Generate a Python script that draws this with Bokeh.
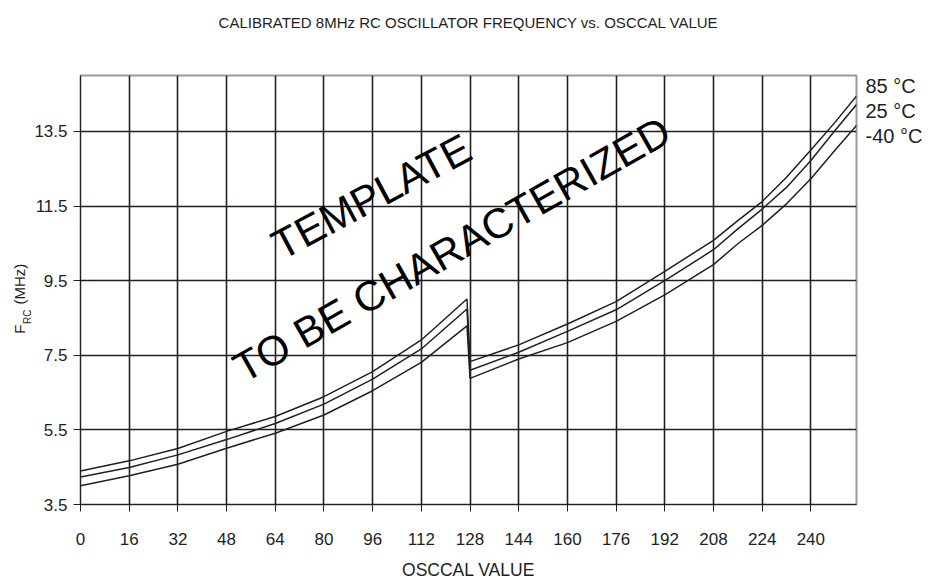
from bokeh.plotting import figure
from bokeh.models import Range1d, FixedTicker, Label, LinearAxis
from bokeh.embed import file_html
from bokeh.resources import INLINE

# ---- data ----
osccal = [0, 16, 32, 48, 64, 80, 96, 112, 127, 128, 144, 160, 176, 192, 208, 216, 224, 232, 240, 248, 255]
f_85 = [4.40, 4.67, 5.00, 5.46, 5.86, 6.39, 7.06, 7.91, 9.01, 7.33, 7.78, 8.34, 8.94, 9.75, 10.58, 11.11, 11.62, 12.27, 13.00, 13.75, 14.45]
f_25 = [4.24, 4.49, 4.83, 5.24, 5.67, 6.19, 6.86, 7.67, 8.74, 7.10, 7.58, 8.14, 8.72, 9.50, 10.33, 10.89, 11.42, 12.00, 12.72, 13.53, 14.22]
f_m40 = [4.00, 4.27, 4.58, 5.01, 5.41, 5.90, 6.55, 7.31, 8.29, 6.88, 7.40, 7.84, 8.41, 9.12, 9.93, 10.49, 10.98, 11.56, 12.23, 13.00, 13.66]
series_labels = ["85 °C", "25 °C", "-40 °C"]
x_ticks = [0, 16, 32, 48, 64, 80, 96, 112, 128, 144, 160, 176, 192, 208, 224, 240]
y_ticks = [3.5, 5.5, 7.5, 9.5, 11.5, 13.5]
title_text = "CALIBRATED 8MHz RC OSCILLATOR FREQUENCY vs. OSCCAL VALUE"
x_title = "OSCCAL VALUE"
y_title_parts = ["F", "RC", "(MHz)"]

# ---- positions (layout only) ----
series_label_y = [14.71, 14.06, 13.37]
y_title_pos = [8.20, 8.53, 9.41]

FONT = "Liberation Sans"
INK = "#231f20"
W, H = 930, 584

p = figure(width=W, height=H, output_backend="svg", toolbar_location=None,
           x_range=Range1d(0, 255), y_range=Range1d(3.5, 15.0),
           min_border_left=80, min_border_right=W - 856, min_border_top=75, min_border_bottom=H - 504)
p.background_fill_color = "white"
p.border_fill_color = "white"
p.outline_line_color = "#9a9a9a"
p.outline_line_width = 2

xa = p.below[0]
ya = p.left[0]
for ax in (xa, ya):
    ax.axis_line_color = INK
    ax.axis_line_width = 1
    ax.major_tick_line_color = INK
    ax.major_tick_out = 7
    ax.major_tick_in = 0
    ax.minor_tick_line_color = None
    ax.major_label_text_font = FONT
    ax.major_label_text_font_size = "17px"
    ax.major_label_text_color = INK
    ax.axis_label_text_font = FONT
    ax.axis_label_text_font_style = "normal"
    ax.axis_label_text_color = INK
xa.ticker = FixedTicker(ticks=x_ticks)
ya.ticker = FixedTicker(ticks=y_ticks)
xa.major_label_standoff = 21
ya.major_label_standoff = 6
xa.axis_label = x_title
xa.axis_label_text_font_size = "17.5px"
xa.axis_label_standoff = 12


def bare_axis(ticks, overrides, size, standoff, orientation="horizontal"):
    ax = LinearAxis(ticker=FixedTicker(ticks=ticks), major_label_overrides=overrides)
    ax.axis_line_color = None
    ax.major_tick_line_color = None
    ax.minor_tick_line_color = None
    ax.major_tick_out = 0
    ax.major_tick_in = 0
    ax.minor_tick_out = 0
    ax.minor_tick_in = 0
    ax.major_label_standoff = standoff
    ax.major_label_orientation = orientation
    ax.major_label_text_font = FONT
    ax.major_label_text_font_size = size
    ax.major_label_text_color = INK
    return ax


# title as the label of a bare top axis
top_ax = bare_axis([], {}, "15px", 0)
top_ax.axis_label = title_text
top_ax.axis_label_standoff = 45
top_ax.axis_label_text_font = FONT
top_ax.axis_label_text_font_size = "15px"
top_ax.axis_label_text_font_style = "normal"
top_ax.axis_label_text_color = INK
p.add_layout(top_ax, "above")

# series labels on a bare right axis
p.add_layout(bare_axis(series_label_y, dict(zip(series_label_y, series_labels)), "20px", 9), "right")

# y title F_RC (MHz): subscript on an inner bare axis, the rest on an outer one
p.add_layout(bare_axis([y_title_pos[1]], {y_title_pos[1]: y_title_parts[1]}, "10px", -2, "parallel"), "left")
p.add_layout(bare_axis([y_title_pos[0], y_title_pos[2]],
                       {y_title_pos[0]: y_title_parts[0], y_title_pos[2]: y_title_parts[2]},
                       "15px", -9, "parallel"), "left")

p.xgrid.ticker = FixedTicker(ticks=x_ticks[1:])
p.ygrid.ticker = FixedTicker(ticks=y_ticks[1:])
for g in (p.xgrid, p.ygrid):
    g.grid_line_color = INK
    g.grid_line_width = 1.6

for ys in (f_85, f_25, f_m40):
    p.line(osccal, ys, line_color=INK, line_width=1.5)

# watermark
p.add_layout(Label(x=63.9, y=10.38, text="TEMPLATE", angle=28, angle_units="deg",
                   text_font=FONT, text_font_size="42px", text_color="black",
                   text_align="left", text_baseline="alphabetic"))
p.add_layout(Label(x=51.4, y=7.08, text="TO BE CHARACTERIZED", angle=29.5, angle_units="deg",
                   text_font=FONT, text_font_size="42px", text_color="black",
                   text_align="left", text_baseline="alphabetic"))

open("out.html", "w").write(file_html(p, INLINE))
